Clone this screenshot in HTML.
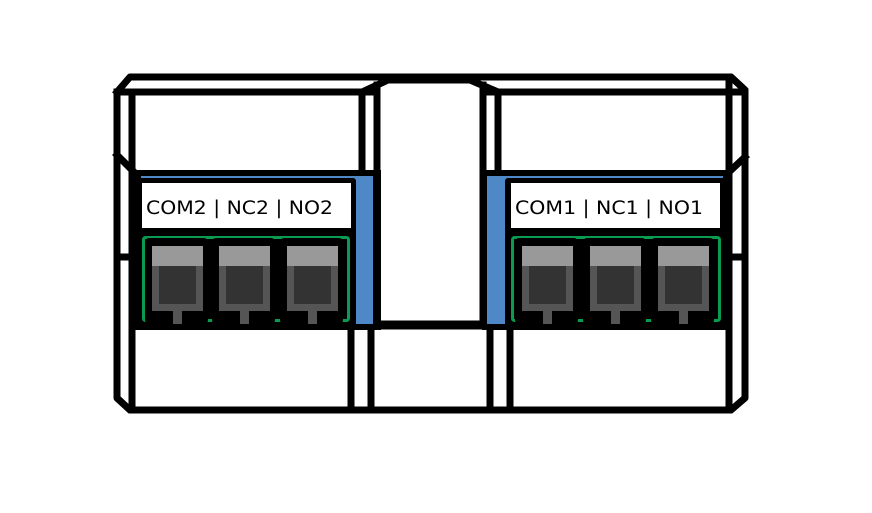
<!DOCTYPE html>
<html><head><meta charset="utf-8"><style>html,body{margin:0;padding:0;background:#fff}svg{display:block}</style></head>
<body>
<svg width="872" height="513" viewBox="0 0 872 513" xmlns="http://www.w3.org/2000/svg">
<rect width="872" height="513" fill="#fff"/>
<g stroke="#000" stroke-width="7" fill="none" stroke-linejoin="round" stroke-linecap="square">
  <!-- outer frame -->
  <path d="M117 92 L130 77 L731 77 L745 90 L745 398 L731 410 L130 410 L117 398 L117 92"/>
  <path d="M362 92 L388 80 L470 80 L498 92"/>
  <line x1="117" y1="92" x2="377" y2="92"/>
  <line x1="483" y1="92" x2="745" y2="92"/>
  <line x1="132" y1="92" x2="132" y2="410"/>
  <line x1="729" y1="77" x2="729" y2="410"/>
  <line x1="117" y1="155" x2="132" y2="170"/>
  <line x1="745" y1="157" x2="729" y2="172"/>
  <line x1="117" y1="257" x2="132" y2="257"/>
  <line x1="729" y1="257" x2="745" y2="257"/>
  <!-- middle verticals top -->
  <line x1="362" y1="92" x2="362" y2="170"/>
  <line x1="377" y1="85" x2="377" y2="325"/>
  <line x1="483" y1="85" x2="483" y2="325"/>
  <line x1="498" y1="92" x2="498" y2="170"/>
  <!-- bottom verticals -->
  <line x1="351" y1="328" x2="351" y2="410"/>
  <line x1="371" y1="328" x2="371" y2="410"/>
  <line x1="490" y1="328" x2="490" y2="410"/>
  <line x1="510" y1="328" x2="510" y2="410"/>
</g>
<!-- left module -->
<rect x="135" y="170" width="246" height="160" fill="#000"/>
<rect x="141" y="176" width="232" height="148" fill="#4f88c6"/>
<rect x="138" y="178" width="218" height="152" rx="3" fill="#000"/>
<rect x="142" y="183" width="209" height="45" fill="#fff"/>
<text x="146" y="214" font-family="DejaVu Sans, sans-serif" font-size="18.5" textLength="187" lengthAdjust="spacingAndGlyphs" fill="#000">COM2 | NC2 | NO2</text>
<rect x="143.5" y="237.5" width="205" height="83" fill="#000" stroke="#0a9a50" stroke-width="3" rx="2"/>
<!-- right module -->
<rect x="482" y="170" width="246" height="160" fill="#000"/>
<rect x="487" y="176" width="236" height="148" fill="#4f88c6"/>
<rect x="505" y="178" width="221" height="152" rx="3" fill="#000"/>
<rect x="511" y="183" width="209" height="45" fill="#fff"/>
<text x="515" y="214" font-family="DejaVu Sans, sans-serif" font-size="18.5" textLength="188" lengthAdjust="spacingAndGlyphs" fill="#000">COM1 | NC1 | NO1</text>
<rect x="512.5" y="237.5" width="207" height="83" fill="#000" stroke="#0a9a50" stroke-width="3" rx="2"/>
<line x1="377" y1="325" x2="487" y2="325" stroke="#000" stroke-width="9"/>
<defs>
  <g id="t">
    <rect x="0" y="0" width="63" height="86" rx="4" fill="#000"/>
    <rect x="7" y="8" width="51" height="65" fill="#555"/>
    <rect x="7" y="8" width="51" height="20" fill="#999"/>
    <rect x="14" y="28" width="37" height="38" fill="#333"/>
    <rect x="28" y="73" width="9" height="13" fill="#555"/>
  </g>
</defs>
<use href="#t" x="145" y="238"/>
<use href="#t" x="212" y="238"/>
<use href="#t" x="280" y="238"/>
<use href="#t" x="515" y="238"/>
<use href="#t" x="583" y="238"/>
<use href="#t" x="651" y="238"/>
</svg>
</body></html>
